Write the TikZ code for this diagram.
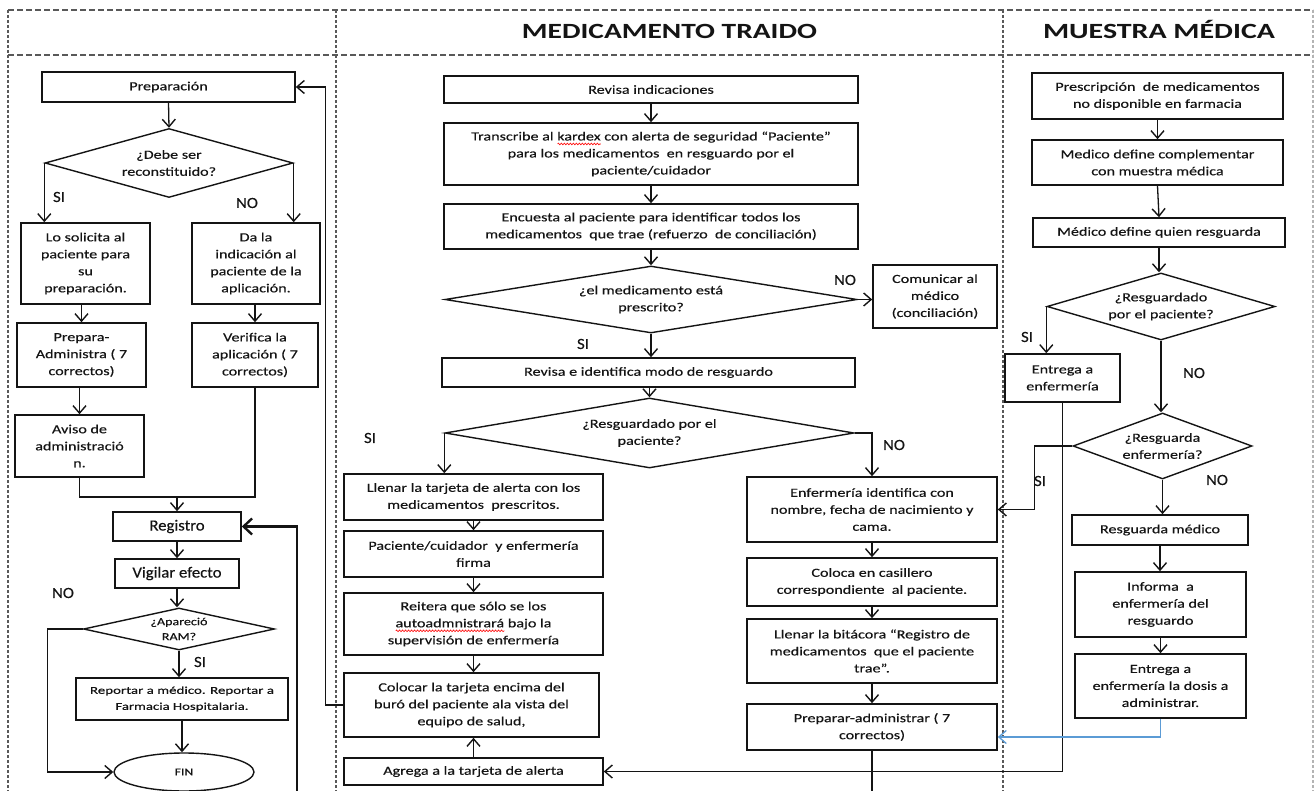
\documentclass[tikz,border=0pt]{standalone}
\usepackage{fontspec}
\usepackage{graphicx}
\usetikzlibrary{arrows.meta,shapes.geometric,calc,decorations.pathmorphing}
\setmainfont{Carlito}
\newfontfamily\boxfont[FakeStretch=1.3,FakeBold=0.3]{Carlito}
\newfontfamily\lblfont[FakeStretch=1.08,FakeBold=0.3]{Carlito}
\definecolor{ink}{HTML}{141414}
\definecolor{lane}{HTML}{595959}
\definecolor{lanelight}{HTML}{B4B4B4}
\definecolor{linkblue}{HTML}{5B9BD5}
% red wavy spell-check underline under a word
\newsavebox\spwbox
\newlength\spwlen
\newcommand\spw[1]{\sbox\spwbox{#1}\setlength\spwlen{\wd\spwbox}%
  \rlap{\raisebox{-3.5pt}{\tikz[x=1pt,y=1pt,baseline=0pt]\draw[red,line width=0.6pt,
    decorate,decoration={zigzag,segment length=3pt,amplitude=0.9pt}] (0,0) -- (\spwlen,0);}}%
  \usebox\spwbox}

\begin{document}
\begin{tikzpicture}[x=1pt,y=-1pt,
  wh/.style 2 args={minimum width=#1pt, minimum height=#2pt},
  box/.style={draw=ink, line width=1.6pt, rectangle, inner sep=0pt, align=center,
    text=ink, font=\boxfont\fontsize{12.4}{17}\selectfont},
  dec/.style={draw=ink, line width=1.4pt, diamond, inner sep=0pt, align=center,
    text=ink, font=\boxfont\fontsize{12.4}{17}\selectfont},
  lbl/.style={inner sep=0pt, text=ink, font=\lblfont\fontsize{15.5}{18}\selectfont},
  arr/.style={draw=ink, line width=1.3pt, -{Straight Barb[length=7.5pt,width=13pt,line width=1.4pt]}},
  link/.style={draw=ink, line width=1.3pt},
  thickarr/.style={draw=ink, line width=2.8pt, -{Straight Barb[length=8.5pt,width=16pt,line width=2.4pt]}},
  thickline/.style={draw=ink, line width=2.8pt},
  bluearr/.style={draw=linkblue, line width=1.3pt, -{Straight Barb[length=7.5pt,width=13pt,line width=1.3pt]}},
  laneh/.style={draw=lane, line width=1.5pt, dash pattern=on 6pt off 3pt},
  lanev/.style={draw=lane, line width=1.8pt, dash pattern=on 3pt off 2pt},
  headtxt/.style={anchor=base, inner sep=0pt, text=ink, font=\fontsize{21.7}{24}\selectfont\bfseries},
]
\useasboundingbox (0,0) rectangle (1314,791);
\fill[white] (0,0) rectangle (1314,791);

% ---- swimlane frame ----
\draw[laneh] (8,10) -- (1313,10);
\draw[laneh] (8,55) -- (1313,55);
\draw[lanev] (8,10) -- (8,791);
\draw[lanev] (336,10) -- (336,791);
\draw[lanev] (1003,10) -- (1003,791);
\draw[lanev, draw=lanelight] (1313,10) -- (1313,791);

\node[headtxt] (h1) at (669.5,39) {\resizebox{295pt}{\height}{MEDICAMENTO TRAIDO}};
\node[headtxt] (h2) at (1159,39) {\resizebox{232pt}{\height}{MUESTRA MÉDICA}};

% ---- left lane ----
\node[box, wh={253}{30}] (prep) at (168.5,87) {Preparación};
\node[dec, wh={248}{69}, aspect=3.6] (d1) at (169,163) {¿Debe ser\\reconstituido?};
\node[box, wh={129}{81}] (sol) at (85.5,263.5) {Lo solicita al\\paciente para\\su\\preparación.};
\node[box, wh={128}{81}] (dai) at (256,263.5) {Da la\\indicación al\\paciente de la\\aplicación.};
\node[box, wh={129}{64}] (prepadm) at (81.5,355) {Prepara-\\Administra ( 7\\correctos)};
\node[box, wh={126}{64}] (verif) at (255,355) {Verifica la\\aplicación ( 7\\correctos)};
\node[box, wh={129}{62}] (aviso) at (79.5,446) {Aviso de\\administració\\n.};
\node[box, wh={128}{29}, font=\lblfont\fontsize{15.5}{18}\selectfont] (reg) at (177,526.5) {Registro};
\node[box, wh={124}{29}, font=\lblfont\fontsize{15.5}{18}\selectfont] (vig) at (177,573.5) {Vigilar efecto};
\node[dec, wh={191}{42}, aspect=4.55, font=\boxfont\fontsize{10.8}{15}\selectfont] (d2) at (179,629) {¿Apareció\\RAM?};
\node[box, wh={212}{42}, font=\boxfont\fontsize{10.5}{16}\selectfont] (rep) at (182,699)
  {\resizebox{184pt}{\height}{Reportar a médico. Reportar a}\\\resizebox{133pt}{\height}{Farmacia Hospitalaria.}};
\node[draw=ink, line width=1.4pt, ellipse, inner sep=0pt, wh={140}{38}, text=ink,
  font=\boxfont\fontsize{10.5}{12}\selectfont] (fin) at (184,772) {FIN};

\node[lbl] (si1) at (59,197) {SI};
\node[lbl] (no1) at (247,203) {NO};
\node[lbl] (no2) at (63,593) {NO};
\node[lbl] (si2) at (200,662) {SI};

\coordinate (jn) at (177,497);
\coordinate (b1) at (297,791);

\draw[arr] (prep.south) -- (d1.north);
\draw[arr] (d1.west) -- (d1.west |- sol.north);
\draw[arr] (d1.east) -- (d1.east |- dai.north);
\draw[arr] (prepadm.north |- sol.south) -- (prepadm.north);
\draw[arr] (verif.north |- dai.south) -- (verif.north);
\draw[arr] (aviso.north |- prepadm.south) -- (aviso.north);
\draw[link] (aviso.south) |- (jn);
\draw[link] (verif.south) |- (jn);
\draw[arr] (jn) -- (reg.north);
\draw[arr] (reg.south) -- (vig.north);
\draw[arr] (vig.south) -- (vig.south |- d2.north);
\draw[arr] (d2.south) -- (d2.south |- rep.north);
\draw[arr] (rep.south) -- (rep.south |- fin.north);
\draw[arr] (d2.west) -- ++(-35,0) |- (fin.west);
\draw[thickarr] (b1) |- (reg.east);

% ---- MEDICAMENTO TRAIDO lane ----
\node[box, wh={414}{27}] (rev) at (651,89.5) {Revisa indicaciones};
\node[box, wh={414}{62}] (trans) at (651,154)
  {Transcribe al \spw{kardex} con alerta de seguridad “Paciente”\\para los medicamentos\ \ en resguardo por el\\paciente/cuidador};
\node[box, wh={414}{45}] (enc) at (651,226.5)
  {Encuesta al paciente para identificar todos los\\medicamentos\ \ que trae (refuerzo\ \ de conciliación)};
\node[dec, wh={412}{67}, aspect=6.15] (d3) at (651,299.5) {¿el medicamento está\\prescrito?};
\node[box, wh={124}{63}] (com) at (935,296.5) {Comunicar al\\médico\\(conciliación)};
\node[box, wh={413}{29}] (revi) at (648.5,372.5) {Revisa e identifica modo de resguardo};
\node[dec, wh={409}{70}, aspect=5.84] (d4) at (649.5,433) {¿Resguardado por el\\paciente?};
\node[box, wh={259}{46}] (llen) at (473.5,497) {Llenar la tarjeta de alerta con los\\medicamentos\ \ prescritos.};
\node[box, wh={259}{46}] (pac) at (473.5,554) {Paciente/cuidador\ \ y enfermería\\firma};
\node[box, wh={259}{62}] (reit) at (473.5,624) {Reitera que sólo se los\\\spw{autoadmnistrará} bajo la\\supervisión de enfermería};
\node[box, wh={255}{64}] (col) at (471.5,705) {Colocar la tarjeta encima del\\buró del paciente ala vista del\\equipo de salud,};
\node[box, wh={259}{27}] (agr) at (473.5,771.5) {Agrega a la tarjeta de alerta};
\node[box, wh={250}{65}] (enf) at (872,509.5) {Enfermería identifica con\\nombre, fecha de nacimiento y\\cama.};
\node[box, wh={250}{48}] (cas) at (872,582) {Coloca en casillero\\correspondiente\ \ al paciente.};
\node[box, wh={250}{64}] (bit) at (872,651) {Llenar la bitácora “Registro de\\medicamentos\ \ que el paciente\\trae”.};
\node[box, wh={250}{46}] (prp) at (872,727) {Preparar-administrar ( 7\\correctos)};

\node[lbl] (no3) at (845,280) {NO};
\node[lbl] (si3) at (583,344) {SI};
\node[lbl] (si4) at (370,438) {SI};
\node[lbl] (no4) at (894,445) {NO};

\draw[arr] (rev.south) -- (trans.north);
\draw[arr] (trans.south) -- (enc.north);
\draw[arr] (enc.south) -- (d3.north);
\draw[arr] (d3.east) -- (d3.east -| com.west);
\draw[arr] (d3.south) -- (d3.south |- revi.north);
\draw[arr] (d4.north |- revi.south) -- (d4.north);
\draw[arr] (d4.west) -- (d4.west |- llen.north);
\draw[arr] (d4.east) -| (enf.north);
\draw[arr] (llen.south) -- (llen.south |- pac.north);
\draw[arr] (pac.south) -- (pac.south |- reit.north);
\draw[arr] (reit.south) -- (reit.south |- col.north);
\draw[arr] (agr.north) -- (agr.north |- col.south);
\draw[arr] (col.west) -- ++(-18,0) |- (prep.east);
\draw[arr] (enf.south) -- (cas.north);
\draw[arr] (cas.south) -- (bit.north);
\draw[arr] (bit.south) -- (prp.north);
\draw[thickline] (prp.south) -- (prp.south |- b1);

% ---- MUESTRA MÉDICA lane ----
\node[box, wh={251}{46}] (pres) at (1157.5,96) {Prescripción\ \ de medicamentos\\no disponible en farmacia};
\node[box, wh={251}{45}] (mdc) at (1157.5,162.5) {Medico define complementar\\con muestra médica};
\node[box, wh={252}{29}] (mdq) at (1159,232.5) {Médico define quien resguarda};
\node[dec, wh={228}{67}, aspect=3.4] (d5) at (1161,306.5) {¿Resguardado\\por el paciente?};
\node[box, wh={115}{48}] (ent1) at (1062.5,378) {Entrega a\\enfermería};
\node[dec, wh={179}{66}, aspect=2.7] (d6) at (1162.5,446) {¿Resguarda\\enfermería?};
\node[box, wh={176}{30}] (resg) at (1160,530) {Resguarda médico};
\node[box, wh={171}{65}] (inf) at (1160.5,604.5) {Informa\ \ a\\enfermería del\\resguardo};
\node[box, wh={171}{64}] (ent2) at (1160.5,686) {Entrega a\\enfermería la dosis a\\administrar.};

\node[lbl] (si5) at (1027,337) {SI};
\node[lbl] (no5) at (1194,373) {NO};
\node[lbl] (si6) at (1040,481) {SI};
\node[lbl] (no6) at (1217,480) {NO};

\draw[arr] (pres.south) -- (mdc.north);
\draw[arr] (mdc.south) -- (mdq.north);
\draw[arr] (mdq.south) -- (mdq.south |- d5.north);
\draw[arr] (d5.west) -- (d5.west |- ent1.north);
\draw[arr] (d5.south) -- (d5.south |- d6.north);
\draw[arr] (d6.west) -- ++(-38,0) |- (enf.east);
\draw[arr] (d6.south) -- (d6.south |- resg.north);
\draw[arr] (resg.south) -- (resg.south |- inf.north);
\draw[arr] (inf.south) -- (ent2.north);
\draw[arr] (ent1.south) |- (agr.east);
\draw[bluearr] (ent2.south) |- ([yshift=-10pt]prp.east);
\end{tikzpicture}
\end{document}
